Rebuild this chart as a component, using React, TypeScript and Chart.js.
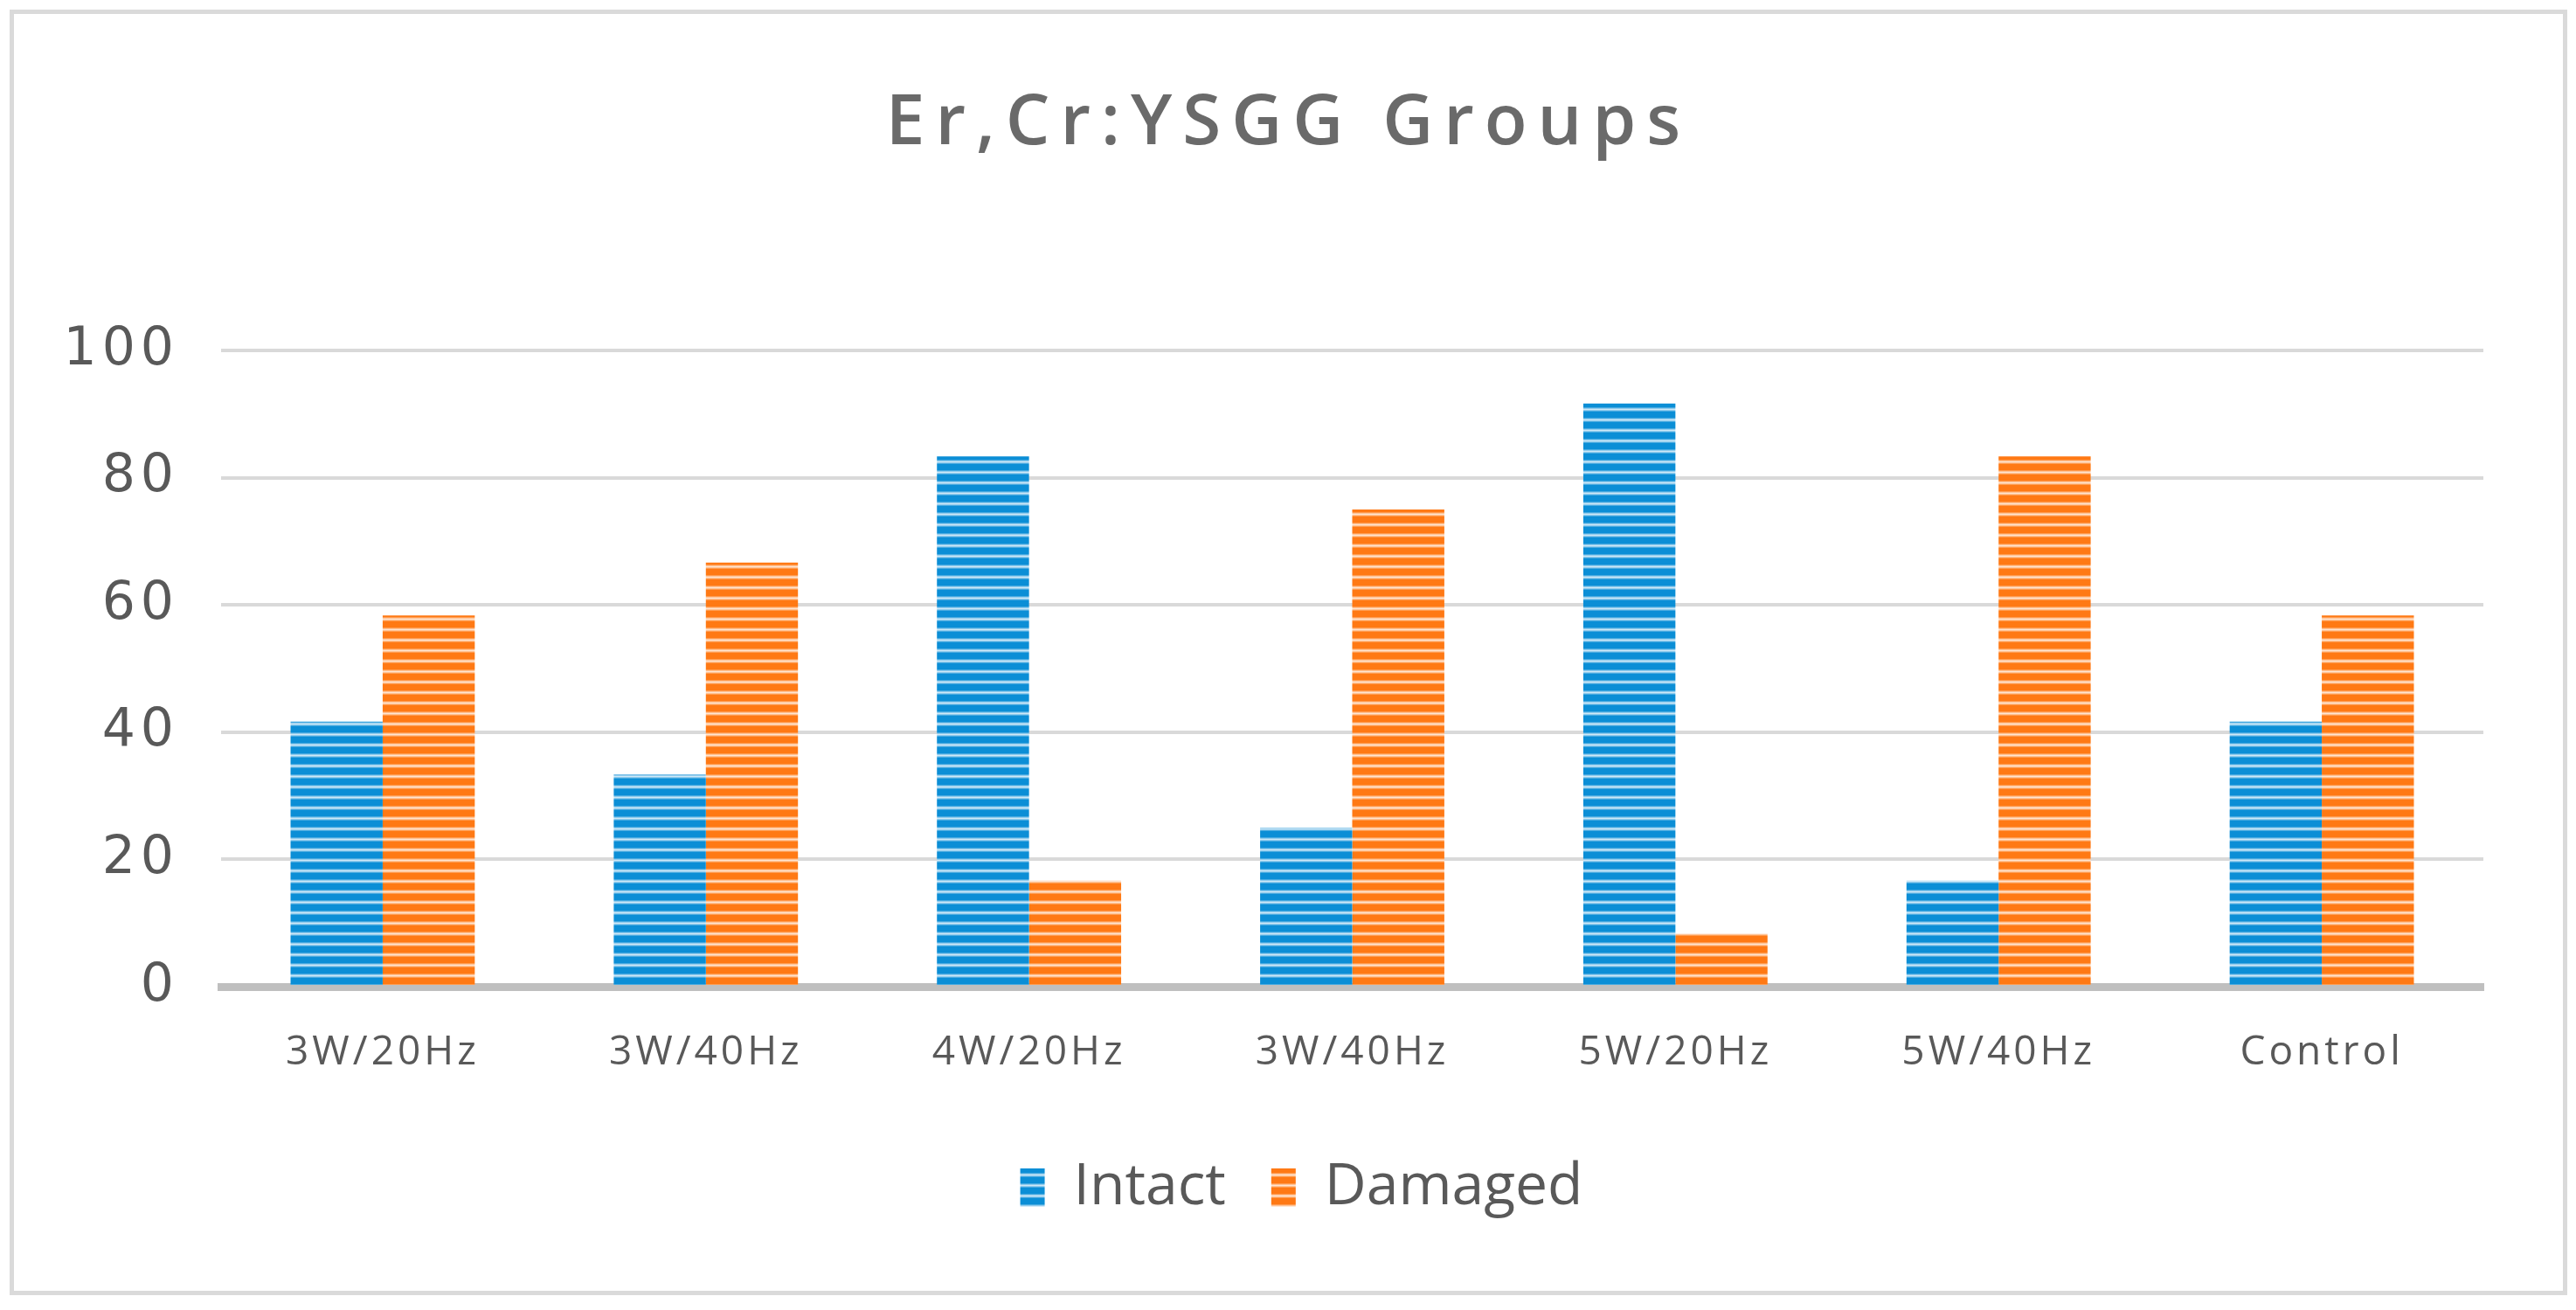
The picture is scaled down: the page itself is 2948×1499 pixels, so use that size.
import React, { useEffect, useRef } from 'react';
import { Chart, registerables } from 'chart.js';

Chart.register(...registerables);

const titleText = 'Er,Cr:YSGG Groups';
const categories = ['3W/20Hz', '3W/40Hz', '4W/20Hz', '3W/40Hz', '5W/20Hz', '5W/40Hz', 'Control'];
const intactValues = [41.67, 33.33, 83.33, 25, 91.67, 16.67, 41.67];
const damagedValues = [58.33, 66.67, 16.67, 75, 8.33, 83.33, 58.33];
const seriesNames = ['Intact', 'Damaged'];
const seriesColors = ['#0B8ED6', '#FF7914'];
const yMin = 0;
const yMax = 100;
const yStep = 20;

function hexToRgb(hex: string) {
  const v = parseInt(hex.slice(1), 16);
  return [(v >> 16) & 255, (v >> 8) & 255, v & 255];
}

function makeStripePattern(hex: string): CanvasPattern | string {
  const c = document.createElement('canvas');
  c.width = 8;
  c.height = 12;
  const ctx = c.getContext('2d');
  if (!ctx) return hex;
  const [r, g, b] = hexToRgb(hex);
  const mix = [0, 0, 0, 0, 0, 0, 0.25, 0.55, 0.8, 0.55, 0.25, 0];
  mix.forEach((m, i) => {
    const rr = Math.round(r + (255 - r) * m);
    const gg = Math.round(g + (255 - g) * m);
    const bb = Math.round(b + (255 - b) * m);
    ctx.fillStyle = `rgb(${rr},${gg},${bb})`;
    ctx.fillRect(0, i, 8, 1);
  });
  const p = ctx.createPattern(c, 'repeat');
  return p || hex;
}

function wrapWithSpacing(chart: any, obj: any, key: string, spacing: string) {
  if (!obj || obj['__sp_' + key]) return;
  const orig = obj[key].bind(obj);
  obj[key] = (...args: any[]) => {
    const ctx = chart.ctx as any;
    ctx.save();
    ctx.letterSpacing = spacing;
    orig(...args);
    ctx.restore();
  };
  obj['__sp_' + key] = true;
}

const textTweaksPlugin = {
  id: 'textTweaks',
  afterInit(chart: any) {
    wrapWithSpacing(chart, chart.titleBlock, 'draw', '12px');
  },
  afterLayout(chart: any) {
    const lg = chart.legend;
    if (lg) {
      lg.left -= 58;
      lg.right -= 58;
    }
  },
  beforeDraw(chart: any) {
    wrapWithSpacing(chart, chart.scales.x, 'drawLabels', '4px');
    wrapWithSpacing(chart, chart.scales.y, 'drawLabels', '6px');
  },
};

export default function App() {
  const ref = useRef<HTMLCanvasElement | null>(null);

  useEffect(() => {
    if (!ref.current) return;
    const patterns = seriesColors.map((c) => makeStripePattern(c));
    const chart = new Chart(ref.current, {
      type: 'bar',
      data: {
        labels: categories,
        datasets: [
          {
            label: seriesNames[0],
            data: intactValues,
            backgroundColor: patterns[0] as any,
            borderWidth: 0,
            yAxisID: 'y',
          },
          {
            label: seriesNames[1],
            data: damagedValues,
            backgroundColor: patterns[1] as any,
            borderWidth: 0,
            yAxisID: 'y',
          },
        ],
      },
      plugins: [textTweaksPlugin],
      options: {
        responsive: false,
        animation: false,
        devicePixelRatio: 1,
        layout: { padding: { left: 0, right: 0, top: 0, bottom: 75 } },
        datasets: {
          bar: { categoryPercentage: 0.57, barPercentage: 1 },
        },
        plugins: {
          title: {
            display: true,
            text: titleText,
            color: '#6A6A6A',
            font: { family: '"Open Sans"', size: 80, weight: 600 as any, lineHeight: 1.2 },
            padding: { top: 78, bottom: 211 },
          },
          legend: {
            display: true,
            position: 'bottom',
            fullSize: false,
            labels: {
              color: '#595959',
              font: { family: '"Open Sans"', size: 66 },
              boxWidth: 28,
              boxHeight: 44,
              padding: 52,
            },
          },
          tooltip: { enabled: false },
        },
        scales: {
          x: {
            grid: { display: false, drawTicks: false },
            border: { display: true, color: '#BFBFBF', width: 9 },
            ticks: {
              color: '#595959',
              font: { family: '"Open Sans"', size: 46 },
              padding: 48,
              maxRotation: 0,
              autoSkip: false,
            },
            afterFit(s: any) {
              s.height = 145;
            },
          },
          y: {
            min: yMin,
            max: yMax,
            grid: { color: '#D9D9D9', lineWidth: 4, drawTicks: false },
            border: { display: false },
            ticks: {
              stepSize: yStep,
              color: '#595959',
              font: { family: '"DejaVu Sans"', size: 60 },
              padding: 48,
            },
            afterFit(s: any) {
              s.width = 237;
            },
          },
          yR: {
            type: 'linear',
            position: 'right',
            display: true,
            grid: { display: false, drawTicks: false },
            border: { display: false },
            ticks: { display: false },
            afterFit(s: any) {
              s.width = 91;
            },
          },
        },
      },
    });
    return () => chart.destroy();
  }, []);

  return (
    <div
      style={{
        position: 'absolute',
        left: 11,
        top: 11,
        width: 2927,
        height: 1471,
        border: '5px solid #DADADA',
        boxSizing: 'border-box',
        background: '#fff',
      }}
    >
      <canvas ref={ref} width={2917} height={1461} style={{ display: 'block', width: 2917, height: 1461 }} />
    </div>
  );
}
